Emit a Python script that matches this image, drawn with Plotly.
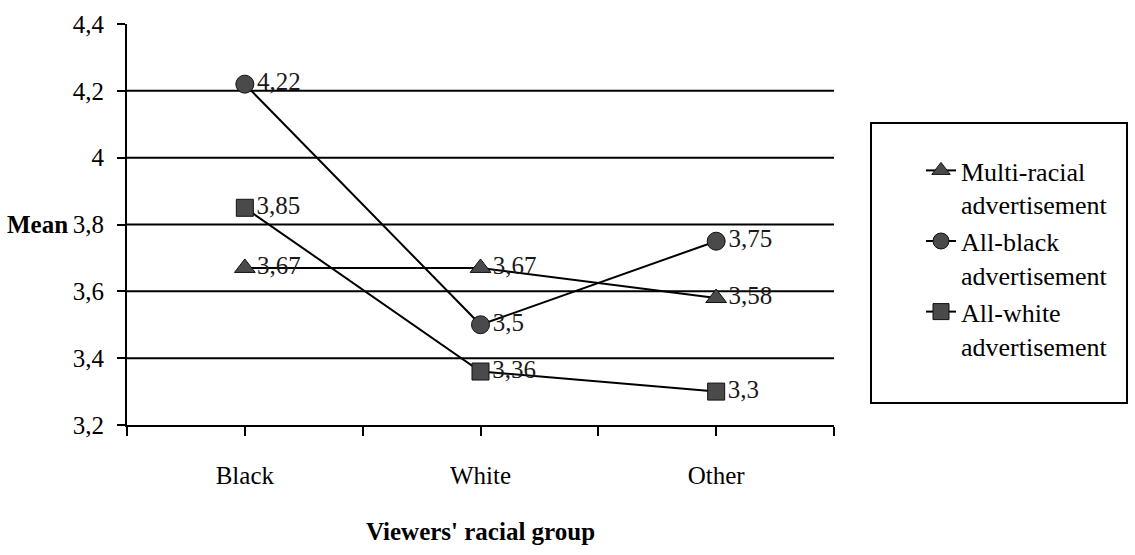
import plotly.graph_objects as go

# Mean rating per viewer group for each advertisement type
groups = ["Black", "White", "Other"]
multi_racial = [3.67, 3.67, 3.58]
all_black = [4.22, 3.5, 3.75]
all_white = [3.85, 3.36, 3.3]

series = [
    ("Multi-racial<br>advertisement", multi_racial, "triangle-up", 18),
    ("All-black<br>advertisement", all_black, "circle", 18),
    ("All-white<br>advertisement", all_white, "square", 17),
]

y_ticks = [3.2, 3.4, 3.6, 3.8, 4.0, 4.2, 4.4]
grid_levels = [3.4, 3.6, 3.8, 4.0, 4.2]

FONT = "Liberation Serif"

# groups sit in the middle of equal-width slots along a numeric axis
x_pos = [i + 0.5 for i in range(len(groups))]
x_tickvals = [i * 0.5 for i in range(2 * len(groups) + 1)]
x_ticktext = ["" if i % 2 == 0 else groups[i // 2] for i in range(2 * len(groups) + 1)]

fig = go.Figure()
for name, vals, sym, size in series:
    fig.add_trace(go.Scatter(
        x=x_pos, y=vals, name=name, mode="lines+markers+text",
        line=dict(color="black", width=2),
        marker=dict(symbol=sym, size=size, color="#4a4a4a",
                    line=dict(color="#111", width=1)),
        text=[str(v).replace(".", ",") for v in vals],
        textposition="middle right",
        textfont=dict(family=FONT, size=25, color="#1a1a1a"),
        cliponaxis=False,
    ))

# horizontal reference lines
for lvl in grid_levels:
    fig.add_shape(type="line", xref="paper", yref="y", x0=0, x1=1, y0=lvl, y1=lvl,
                  line=dict(color="black", width=2), layer="below")

# legend frame
fig.add_shape(type="rect", xref="paper", yref="paper",
              x0=(871 - 127) / 707, x1=(1127 - 127) / 707,
              y0=(425 - 403) / 401, y1=(425 - 123) / 401,
              line=dict(color="black", width=2), fillcolor="white", layer="below")

fig.add_annotation(text="<b>Mean</b>", xref="paper", yref="y", x=(70 - 127) / 707, y=3.8,
                   xanchor="right", yanchor="middle", showarrow=False,
                   font=dict(family=FONT, size=25, color="black"))

fig.update_layout(
    width=1135, height=555,
    margin=dict(l=127, r=301, t=24, b=130),
    paper_bgcolor="white", plot_bgcolor="white",
    separators=", ",
    font=dict(family=FONT, size=25, color="black"),
    showlegend=True,
    legend=dict(x=(921 - 127) / 707, y=(425 - 147) / 401, xanchor="left", yanchor="top",
                bgcolor="rgba(0,0,0,0)", borderwidth=0, valign="top",
                font=dict(family=FONT, size=26, color="black"),
                tracegroupgap=6, traceorder="normal"),
    xaxis=dict(range=[0, 3], tickvals=x_tickvals, ticktext=x_ticktext,
               showgrid=False, zeroline=False, showline=True, linecolor="black", linewidth=2,
               ticks="outside", ticklen=9, tickwidth=2, tickcolor="black",
               ticklabelstandoff=18,
               title=dict(text="<b>Viewers' racial group</b>", standoff=34,
                          font=dict(family=FONT, size=25))),
    yaxis=dict(range=[3.2, 4.4], tickvals=y_ticks, showgrid=False, zeroline=False,
               showline=True, linecolor="black", linewidth=2,
               ticks="outside", ticklen=8, tickwidth=2, tickcolor="black",
               ticklabelstandoff=8),
)

fig.write_html("out.html")
